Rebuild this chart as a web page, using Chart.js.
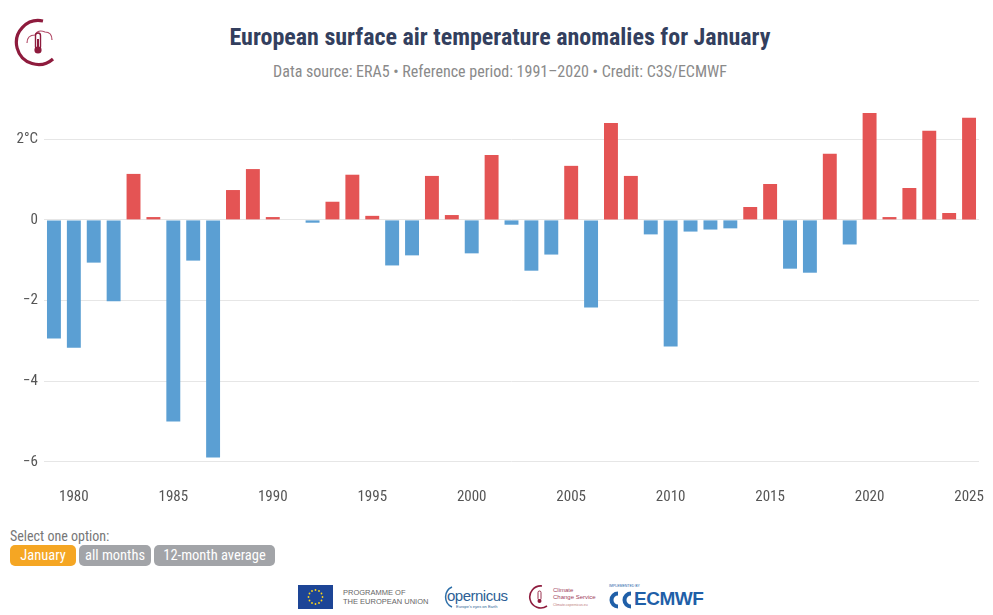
<!DOCTYPE html>
<html><head><meta charset="utf-8">
<script src="https://cdn.jsdelivr.net/npm/chart.js@4.4.1/dist/chart.umd.min.js"></script>
<style>
body{margin:0;background:#fff;font-family:"Roboto Condensed",sans-serif;width:993px;height:615px;overflow:hidden;position:relative}
#title{position:absolute;left:0;width:1000px;top:23px;text-align:center;font-weight:700;font-size:24px;color:#333f5e}
#sub{position:absolute;left:0;width:1000px;top:62px;text-align:center;font-size:16px;color:#8a8a8a}
#wrap{position:absolute;left:0;top:90px;width:993px;height:430px}
#sel{position:absolute;left:10px;top:528px;font-size:14px;color:#777}
.btn{position:absolute;top:545px;height:21px;line-height:21px;border-radius:5px;color:#fff;font-size:14.5px;text-align:center}
.foot{position:absolute}
</style>
</head><body>
<svg style="position:absolute;left:13px;top:17px" width="46" height="50" viewBox="0 0 46 50">
  <path d="M30 4 A22 22 0 1 0 40 42" fill="none" stroke="#8e1b3d" stroke-width="3.2"/>
  <path d="M14 26 q0 -8 8 -8 q3 -6 10 -3 q7 0 7 8" fill="none" stroke="#b24a67" stroke-width="1.2"/>
  <rect x="22.5" y="16" width="5" height="16" rx="2.5" fill="none" stroke="#8e1b3d" stroke-width="1.4"/>
  <circle cx="25" cy="33" r="3.6" fill="#8e1b3d"/>
  <rect x="24" y="22" width="2" height="10" fill="#8e1b3d"/>
</svg>
<div id="title">European surface air temperature anomalies for January</div>
<div id="sub">Data source: ERA5 • Reference period: 1991–2020 • Credit: C3S/ECMWF</div>
<div id="wrap"><canvas id="c"></canvas></div>
<div id="sel">Select one option:</div>
<div class="btn" style="left:10px;width:66px;background:#f5a623">January</div>
<div class="btn" style="left:79px;width:72px;background:#a2a4a8">all months</div>
<div class="btn" style="left:154px;width:121px;background:#a2a4a8">12-month average</div>

<div class="foot" style="left:298px;top:585px;width:35px;height:24px;background:#1d4596"></div>
<svg class="foot" style="left:298px;top:585px" width="35" height="24" viewBox="0 0 35 24">
  <g fill="#ffd617">
    <circle cx="17.5" cy="5" r="0.9"/><circle cx="21" cy="6" r="0.9"/><circle cx="23.5" cy="8.5" r="0.9"/><circle cx="24.5" cy="12" r="0.9"/>
    <circle cx="23.5" cy="15.5" r="0.9"/><circle cx="21" cy="18" r="0.9"/><circle cx="17.5" cy="19" r="0.9"/><circle cx="14" cy="18" r="0.9"/>
    <circle cx="11.5" cy="15.5" r="0.9"/><circle cx="10.5" cy="12" r="0.9"/><circle cx="11.5" cy="8.5" r="0.9"/><circle cx="14" cy="6" r="0.9"/>
  </g>
</svg>
<div class="foot" style="left:343px;top:588px;font-family:'Liberation Sans',sans-serif;font-size:7.5px;line-height:9px;color:#666">PROGRAMME OF<br>THE EUROPEAN UNION</div>
<svg class="foot" style="left:440px;top:583px" width="75" height="30" viewBox="0 0 75 30">
  <path d="M12 4 A11 11 0 0 0 12 24" fill="none" stroke="#2d6fa8" stroke-width="1.5"/>
</svg>
<div class="foot" style="left:447px;top:587px;font-family:'Liberation Sans',sans-serif;font-size:15px;color:#2d5f96;letter-spacing:-0.5px">opernicus</div>
<div class="foot" style="left:456px;top:604px;font-family:'Liberation Sans',sans-serif;font-size:4px;color:#2d5f96">Europe's eyes on Earth</div>
<svg class="foot" style="left:527px;top:584px" width="24" height="26" viewBox="0 0 24 26">
  <path d="M15 2 A11 11 0 1 0 20 22" fill="none" stroke="#8e1b3d" stroke-width="1.6"/>
  <rect x="11" y="7" width="3" height="9" rx="1.5" fill="none" stroke="#8e1b3d" stroke-width="0.9"/>
  <circle cx="12.5" cy="17" r="2" fill="#8e1b3d"/>
</svg>
<div class="foot" style="left:553px;top:587px;font-family:'Liberation Sans',sans-serif;font-size:6px;line-height:7px;color:#a0415d">Climate<br>Change Service</div>
<div class="foot" style="left:553px;top:603px;font-family:'Liberation Sans',sans-serif;font-size:3.5px;color:#b77">Climate.copernicus.eu</div>
<div class="foot" style="left:609px;top:584px;font-family:'Liberation Sans',sans-serif;font-size:3.5px;color:#1f5fa8">IMPLEMENTED BY</div>
<svg class="foot" style="left:607px;top:591px" width="30" height="18" viewBox="0 0 30 18">
  <path d="M11 2.5 A6.5 6.5 0 1 0 11 15.5" fill="none" stroke="#1f5fa8" stroke-width="4"/>
  <path d="M24 2.5 A6.5 6.5 0 1 0 24 15.5" fill="none" stroke="#1f5fa8" stroke-width="4"/>
</svg>
<div class="foot" style="left:634px;top:588px;font-family:'Liberation Sans',sans-serif;font-weight:700;font-size:19px;color:#1f5fa8;line-height:22px;letter-spacing:-0.5px">ECMWF</div>

<script>
const years=[1979,1980,1981,1982,1983,1984,1985,1986,1987,1988,1989,1990,1991,1992,1993,1994,1995,1996,1997,1998,1999,2000,2001,2002,2003,2004,2005,2006,2007,2008,2009,2010,2011,2012,2013,2014,2015,2016,2017,2018,2019,2020,2021,2022,2023,2024,2025];
const anomalies=[-2.94,-3.17,-1.06,-2.02,1.14,0.07,-5.00,-1.01,-5.89,0.74,1.26,0.07,0.00,-0.07,0.45,1.12,0.10,-1.13,-0.88,1.09,0.12,-0.83,1.61,-0.12,-1.26,-0.86,1.34,-2.17,2.40,1.09,-0.36,-3.14,-0.29,-0.24,-0.21,0.32,0.89,-1.21,-1.31,1.64,-0.61,2.65,0.07,0.79,2.21,0.17,2.53];
const yTicks=[-6,-4,-2,0,2];
const warmColor='#e45454', coldColor='#5b9fd3';

const tickText=v=>v===2?'2°C':(v<0?'\u2212'+Math.abs(v):String(v));
new Chart(document.getElementById('c'),{
  type:'bar',
  data:{labels:years.map(String),datasets:[{data:anomalies,
    backgroundColor:anomalies.map(v=>v>=0?warmColor:coldColor),
    barPercentage:0.7,categoryPercentage:1.0,borderWidth:0}]},
  options:{
    responsive:true,maintainAspectRatio:false,animation:false,
    layout:{padding:{top:21,right:14,left:0,bottom:0}},
    plugins:{legend:{display:false},tooltip:{enabled:false}},
    scales:{
      x:{grid:{display:false,drawTicks:false},border:{display:false},
        ticks:{autoSkip:false,maxRotation:0,padding:6,color:'#555',font:{family:'Roboto Condensed',size:15},
          callback:function(v,i){const y=years[i];return y%5===0?String(y):'';}},
        afterFit:s=>{s.height=38;}},
      y:{min:-6.5,max:2.7,
        afterBuildTicks:s=>{s.ticks=yTicks.map(v=>({value:v}));},
        grid:{color:'#e6e6e6',lineWidth:1,drawTicks:false},border:{display:false},
        ticks:{padding:6,color:'#555',font:{family:'Roboto Condensed',size:15},callback:v=>tickText(v)},
        afterFit:s=>{s.width=44;}}
    }
  }
});
</script>
</body></html>
